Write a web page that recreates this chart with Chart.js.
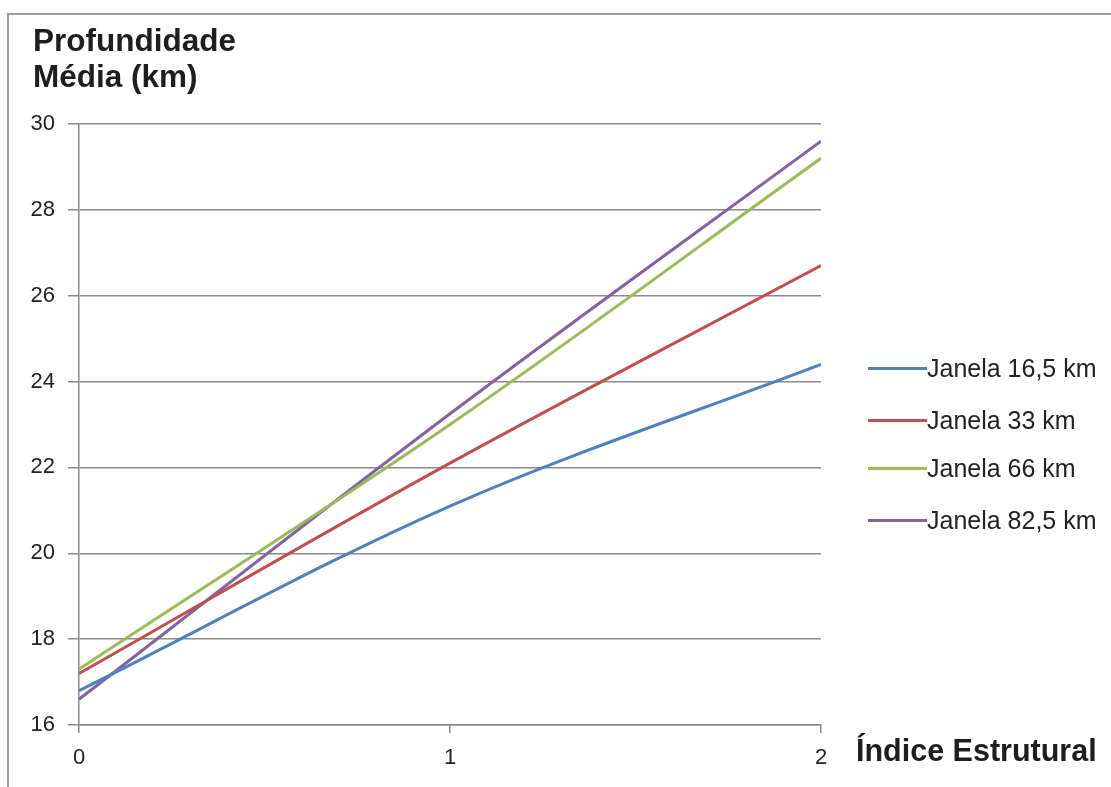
<!DOCTYPE html>
<html><head><meta charset="utf-8">
<script src="https://cdn.jsdelivr.net/npm/chart.js@4/dist/chart.umd.min.js"></script>
<style>
html,body{margin:0;padding:0;background:#fff;width:1111px;height:787px;overflow:hidden;font-family:"Liberation Sans",Arial,sans-serif;}
#frame{position:absolute;left:7px;top:13px;width:1120px;height:800px;border-left:2px solid #9c9c9c;border-top:2px solid #9c9c9c;}
#wrap{position:absolute;left:0;top:0;width:1111px;height:787px;}
.ytitle{position:absolute;left:33px;top:22px;font-weight:bold;font-size:31.5px;line-height:36px;color:#1e1e1e;}
.xtitle{position:absolute;left:856px;top:732px;font-weight:bold;font-size:30.5px;line-height:36px;color:#1e1e1e;white-space:nowrap;}
#legend{position:absolute;left:868px;top:0;}
.li{position:absolute;left:0;height:30px;white-space:nowrap;}
.li .sw{position:absolute;left:0;top:14px;width:59px;height:3px;}
.li .tx{position:absolute;left:59px;top:0;font-size:25px;line-height:30px;color:#222;}
</style></head>
<body>
<div id="frame"></div>
<div id="wrap"><canvas id="c" width="1111" height="787"></canvas></div>
<div class="ytitle">Profundidade<br>Média (km)</div>
<div class="xtitle">Índice Estrutural</div>
<div id="legend"></div>
<script>
const indiceEstrutural = [0, 1, 2];
const janela16_5 = [16.8, 21.1, 24.4];
const janela33 = [17.2, 22.1, 26.7];
const janela66 = [17.3, 23.0, 29.2];
const janela82_5 = [16.6, 23.25, 29.6];
const seriesNames = ["Janela 16,5 km", "Janela 33 km", "Janela 66 km", "Janela 82,5 km"];
const seriesColors = ["#4F81BD", "#C0504D", "#9BBB59", "#8064A2"];
const yTicks = [16, 18, 20, 22, 24, 26, 28, 30];
const xTicks = [0, 1, 2];

const allSeries = [janela16_5, janela33, janela66, janela82_5];
const gridColor = "#8a8a8a";

const datasets = allSeries.map((vals, i) => ({
  label: seriesNames[i],
  data: vals.map((v, j) => ({x: indiceEstrutural[j], y: v})),
  borderColor: seriesColors[i],
  backgroundColor: seriesColors[i],
  borderWidth: 3,
  pointRadius: 0,
  showLine: true,
  tension: 0.34,
  fill: false
}));

new Chart(document.getElementById("c"), {
  type: "scatter",
  data: {datasets},
  options: {
    responsive: false,
    animation: false,
    layout: {padding: {top: 124, right: 290, bottom: 0, left: 0}},
    plugins: {legend: {display: false}, tooltip: {enabled: false}},
    scales: {
      x: {
        type: "linear", min: 0, max: 2,
        afterBuildTicks: s => { s.ticks = xTicks.map(v => ({value: v})); },
        afterFit: s => { s.height = 62; },
        grid: {drawOnChartArea: false, drawTicks: true, tickLength: 8, color: gridColor, lineWidth: 1.5},
        border: {display: true, color: gridColor, width: 1.5},
        ticks: {padding: 12, color: "#222", font: {family: "Liberation Sans", size: 22}, maxRotation: 0}
      },
      y: {
        type: "linear", min: 16, max: 30,
        afterBuildTicks: s => { s.ticks = yTicks.map(v => ({value: v})); },
        afterFit: s => { s.width = 79; },
        grid: {drawOnChartArea: true, drawTicks: true, tickLength: 11, color: gridColor, lineWidth: 1.5},
        border: {display: true, color: gridColor, width: 1.5},
        ticks: {padding: 13, color: "#222", font: {family: "Liberation Sans", size: 22}}
      }
    }
  }
});

const legendTops = [353, 405, 453, 505];
const lg = document.getElementById("legend");
seriesNames.forEach((n, i) => {
  const d = document.createElement("div");
  d.className = "li";
  d.style.top = legendTops[i] + "px";
  d.innerHTML = '<div class="sw" style="background:' + seriesColors[i] + '"></div><div class="tx">' + n + '</div>';
  lg.appendChild(d);
});
</script>
</body></html>
